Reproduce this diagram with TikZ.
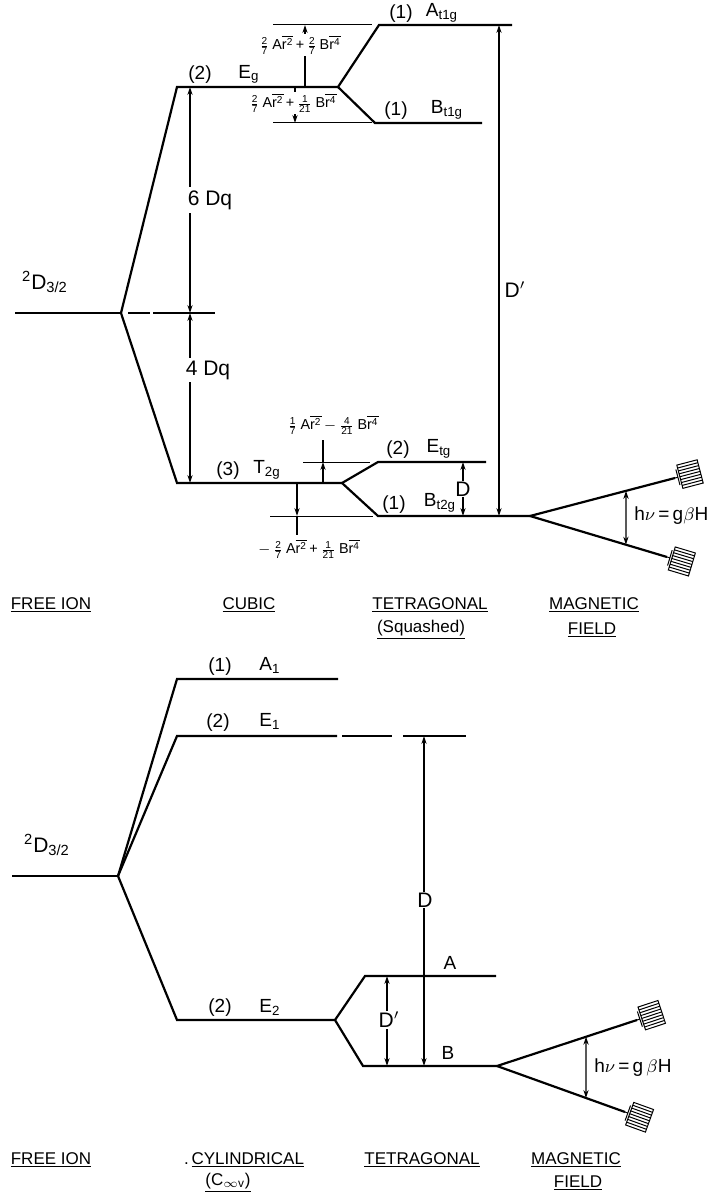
\documentclass[tikz,border=0pt]{standalone}
\usepackage{amsmath}
\usepackage{fontspec}
\setmainfont{Liberation Sans}
\usetikzlibrary{arrows.meta,calc}

% fractions and averages in the crystal-field terms
\newcommand{\fr}[2]{\ensuremath{\tfrac{\text{#1}}{\text{#2}}\,}}
\newcommand{\rav}[1]{\ensuremath{\overline{\text{r}^{\text{#1}}}}}
\newcommand{\ul}[1]{\underline{#1}}

% striped end piece on a Zeeman branch: #1 = end point, #2 = angle
\newcommand{\hatchbox}[2]{%
  \begin{scope}[shift={(#1)}, rotate=#2]
    \draw[guide] (0,0) -- (3,0);
    \draw[guide] (3,-8) -- (3,8);
    \draw[guide] (5,-12) rectangle (26,12);
    \foreach \s in {-9,-6,...,9} \draw[guide] (5,\s) -- (26,\s);
  \end{scope}}

\begin{document}
\begin{tikzpicture}[x=0.5pt, y=-0.5pt, >={Stealth[length=4pt,width=2.6pt]},
  font=\fontsize{9.5}{11}\selectfont,
  level/.style={line width=1.1pt},
  guide/.style={line width=0.5pt},
  gap/.style={line width=0.6pt},
  lbl/.style={inner sep=1pt},
  big/.style={font=\fontsize{10.5}{12}\selectfont, fill=white, inner sep=1.5pt},
  term/.style={font=\fontsize{7.2}{8}\selectfont, fill=white, inner sep=0.5pt},
  head/.style={font=\fontsize{8.5}{10}\selectfont, inner sep=1pt}]

\useasboundingbox (0,0) rectangle (707,1192);

% =====================================================================
% Upper scheme: free ion -> cubic -> tetragonal (squashed) -> field
% =====================================================================

% free ion
\coordinate (fi1) at (15,313);
\coordinate (v1)  at (121,313);
\draw[level] (fi1) -- (v1);
\draw[level] (128,313) -- (150,313) (153,313) -- (215,313);
\node[lbl, font=\fontsize{10.5}{12}\selectfont] (fi1lab) at (45,282)
  {\textsuperscript{2}D\textsubscript{3/2}};

% cubic levels
\coordinate (eg-l)  at (177,87);
\coordinate (eg-r)  at (338,87);
\coordinate (t2g-l) at (177,483);
\coordinate (t2g-r) at (342,483);
\draw[level] (v1) -- (eg-l) -- (eg-r);
\draw[level] (v1) -- (t2g-l) -- (t2g-r);

% tetragonal levels
\coordinate (a1g-l) at (379,25);  \coordinate (a1g-r) at (512,25);
\coordinate (b1g-l) at (375,123); \coordinate (b1g-r) at (482,123);
\coordinate (etg-l) at (378,462); \coordinate (etg-r) at (486,462);
\coordinate (b2g-l) at (378,516); \coordinate (mv1)   at (530,516);
\draw[level] (eg-r) -- (a1g-l) -- (a1g-r);
\draw[level] (eg-r) -- (b1g-l) -- (b1g-r);
\draw[level] (t2g-r) -- (etg-l) -- (etg-r);
\draw[level] (t2g-r) -- (b2g-l) -- (mv1);

% guide lines for the shifts
\draw[guide] (273,25) -- (372,25);
\draw[guide] (273,123) -- (372,123);
\draw[guide] (303,462) -- (370,462);
\draw[guide] (270,516) -- (373,516);

% level labels
\node[lbl] (eg-n)  at (200,75)  {(2)};
\node[lbl] (eg-t)  at (249,74)  {E\textsubscript{g}};
\node[lbl] (a1g-n) at (401,14)  {(1)};
\node[lbl] (a1g-t) at (442,13)  {A\textsubscript{t1g}};
\node[lbl] (b1g-n) at (396,111) {(1)};
\node[lbl] (b1g-t) at (447,110) {B\textsubscript{t1g}};
\node[lbl] (t2g-n) at (228,471) {(3)};
\node[lbl] (t2g-t) at (267,470) {T\textsubscript{2g}};
\node[lbl] (etg-n) at (398,450) {(2)};
\node[lbl] (etg-t) at (439,449) {E\textsubscript{tg}};
\node[lbl] (b2g-n) at (394,505) {(1)};
\node[lbl] (b2g-t) at (440,503) {B\textsubscript{t2g}};

% cubic splitting
\coordinate (dq-top) at (190,87);
\coordinate (dq-mid) at (190,313);
\coordinate (dq-bot) at (190,483);
\draw[gap,<->] (dq-top) -- (dq-mid);
\draw[gap,<->] (dq-mid) -- (dq-bot);
\node[big] (six)  at (210,200) {6 Dq};
\node[big] (four) at (208,370) {4 Dq};

% tetragonal shifts of E_g
\coordinate (sa-0) at (305,87);  \coordinate (sa-1) at (305,25);
\coordinate (sb-0) at (295,87);  \coordinate (sb-1) at (295,123);
\draw[gap,->] (sa-0) -- (sa-1);
\draw[gap,->] (sb-0) -- (sb-1);
\node[term] (sa-lab) at (300,45)
  {\fr{2}{7}A\rav{2}\,+\,\fr{2}{7}B\rav{4}};
\node[term] (sb-lab) at (293,103)
  {\fr{2}{7}A\rav{2}\,+\,\fr{1}{21}B\rav{4}};

% tetragonal shifts of T_2g
\coordinate (sc-0) at (323,483); \coordinate (sc-1) at (323,462);
\coordinate (sc-2) at (323,440);
\coordinate (sd-0) at (297,483); \coordinate (sd-1) at (297,516);
\coordinate (sd-2) at (297,535);
\draw[gap,->] (sc-0) -- (sc-1);
\draw[gap] (sc-1) -- (sc-2);
\draw[gap,->] (sd-0) -- (sd-1);
\draw[gap] (sd-1) -- (sd-2);
\node[term] (sc-lab) at (333,425)
  {\fr{1}{7}A\rav{2}\,$-$\,\fr{4}{21}B\rav{4}};
\node[term] (sd-lab) at (309,549)
  {$-$\,\fr{2}{7}A\rav{2}\,+\,\fr{1}{21}B\rav{4}};

% D and D'
\coordinate (d-top) at (463,462); \coordinate (d-bot) at (463,516);
\draw[gap,<->] (d-top) -- (d-bot);
\node[big, inner sep=0.5pt] (d-lab) at (463,489) {D};
\coordinate (dp-top) at (499,25); \coordinate (dp-bot) at (499,516);
\draw[gap,<->] (dp-top) -- (dp-bot);
\node[big, fill=none] (dp-lab) at (515,290) {D$'$};

% Zeeman splitting
\coordinate (z1-up) at (675,478);
\coordinate (z1-dn) at (667,557);
\draw[level] (mv1) -- (z1-up);
\draw[level] (mv1) -- (z1-dn);
\hatchbox{z1-up}{14.7}
\hatchbox{z1-dn}{-16.7}
\coordinate (h1-a) at ($(mv1)!0.662!(z1-up)$);
\coordinate (h1-b) at ($(mv1)!0.70!(z1-dn)$);
\draw[gap,<->] (h1-a) -- (h1-b);
\node[lbl, anchor=west] (h1-lab) at (632,516)
  {h$\nu$\,=\,g$\beta$H};

% column headings
\node[head] (c1) at (51,605)  {\ul{FREE ION}};
\node[head] (c2) at (249,605) {\ul{CUBIC}};
\node[head] (c3) at (430,605) {\ul{TETRAGONAL}};
\node[head] (c4) at (421,630) {\ul{(Squashed)}};
\node[head] (c5) at (594,605) {\ul{MAGNETIC}};
\node[head] (c6) at (592,630) {\ul{FIELD}};

% =====================================================================
% Lower scheme: free ion -> cylindrical -> tetragonal -> field
% =====================================================================

\coordinate (fi2) at (12,876);
\coordinate (v2)  at (118,876);
\draw[level] (fi2) -- (v2);
\node[lbl, font=\fontsize{10.5}{12}\selectfont] (fi2lab) at (47,845)
  {\textsuperscript{2}D\textsubscript{3/2}};

\coordinate (a1-l) at (177,679); \coordinate (a1-r) at (338,679);
\coordinate (e1-l) at (177,736); \coordinate (e1-r) at (337,736);
\coordinate (e2-l) at (177,1020); \coordinate (e2-r) at (335,1020);
\draw[level] (v2) -- (a1-l) -- (a1-r);
\draw[level] (v2) -- (e1-l) -- (e1-r);
\draw[level] (v2) -- (e2-l) -- (e2-r);
\draw[level] (342,736) -- (392,736) (403,736) -- (466,736);

\coordinate (a-l) at (365,976); \coordinate (a-r) at (496,976);
\coordinate (b-l) at (363,1066); \coordinate (mv2) at (497,1066);
\draw[level] (e2-r) -- (a-l) -- (a-r);
\draw[level] (e2-r) -- (b-l) -- (mv2);

\node[lbl] (a1-n) at (220,667)  {(1)};
\node[lbl] (a1-t) at (270,665)  {A\textsubscript{1}};
\node[lbl] (e1-n) at (218,723)  {(2)};
\node[lbl] (e1-t) at (270,721)  {E\textsubscript{1}};
\node[lbl] (e2-n) at (220,1008) {(2)};
\node[lbl] (e2-t) at (270,1007) {E\textsubscript{2}};
\node[lbl] (a-t)  at (450,963)  {A};
\node[lbl] (b-t)  at (448,1053) {B};

% D and D'
\coordinate (dd-top) at (424,736); \coordinate (dd-bot) at (424,1066);
\draw[gap,<->] (dd-top) -- (dd-bot);
\node[big, inner sep=0.5pt] (dd-lab) at (425,900) {D};
\coordinate (ddp-top) at (387,976); \coordinate (ddp-bot) at (387,1066);
\draw[gap,<->] (ddp-top) -- (ddp-bot);
\node[big, inner sep=0.5pt] (ddp-lab) at (389,1020) {D$'$};

% Zeeman splitting
\coordinate (z2-up) at (637,1020);
\coordinate (z2-dn) at (625,1112);
\draw[level] (mv2) -- (z2-up);
\draw[level] (mv2) -- (z2-dn);
\hatchbox{z2-up}{18.2}
\hatchbox{z2-dn}{-19.8}
\coordinate (h2-a) at ($(mv2)!0.636!(z2-up)$);
\coordinate (h2-b) at ($(mv2)!0.695!(z2-dn)$);
\draw[gap,<->] (h2-a) -- (h2-b);
\node[lbl, anchor=west] (h2-lab) at (592,1068)
  {h$\nu$\,=\,g\,$\beta$H};

% column headings
\node[head] (k1) at (51,1160)  {\ul{FREE ION}};
\node[head] (k2) at (244,1160) {.\,\ul{CYLINDRICAL}};
\node[head] (k3) at (422,1160) {\ul{TETRAGONAL}};
\node[head] (k4) at (228,1183) {\ul{(C\textsubscript{$\infty$v})}};
\node[head] (k5) at (576,1160) {\ul{MAGNETIC}};
\node[head] (k6) at (578,1183) {\ul{FIELD}};

\end{tikzpicture}
\end{document}
